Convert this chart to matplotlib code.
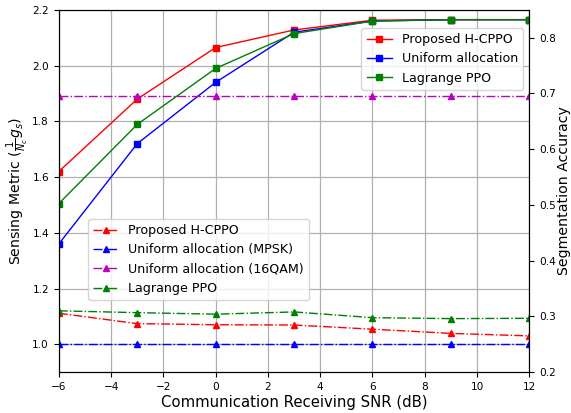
import matplotlib
matplotlib.use("Agg")
import matplotlib.pyplot as plt

snr = [-6, -3, 0, 3, 6, 9, 12]

# Sensing metric (left axis)
sense_hcppo = [1.62, 1.88, 2.065, 2.128, 2.163, 2.165, 2.165]
sense_uniform = [1.36, 1.72, 1.94, 2.12, 2.16, 2.165, 2.165]
sense_lagrange = [1.505, 1.789, 1.99, 2.115, 2.16, 2.165, 2.165]

# Segmentation accuracy (right axis)
seg_hcppo = [0.3056, 0.287, 0.285, 0.2845, 0.277, 0.2695, 0.265]
seg_mpsk = [0.25, 0.25, 0.25, 0.25, 0.25, 0.25, 0.25]
seg_16qam = [0.695, 0.695, 0.695, 0.695, 0.695, 0.695, 0.695]
seg_lagrange = [0.310, 0.3067, 0.304, 0.308, 0.2977, 0.296, 0.2966]

fig, ax = plt.subplots(figsize=(5.71, 4.13), dpi=100)
fig.subplots_adjust(left=0.103, right=0.927, top=0.976, bottom=0.099)

ms = 4.8
lw = 1.0
ax.plot(snr, sense_hcppo, 'r-s', markersize=ms, linewidth=lw, label='Proposed H-CPPO')
ax.plot(snr, sense_uniform, 'b-s', markersize=ms, linewidth=lw, label='Uniform allocation')
ax.plot(snr, sense_lagrange, 'g-s', markersize=ms, linewidth=lw, label='Lagrange PPO')
ax.set_xlim(-6, 12)
ax.set_ylim(0.9, 2.2)
ax.set_xlabel('Communication Receiving SNR (dB)', fontsize=10.7, labelpad=2)
ax.set_ylabel(r'Sensing Metric ($\frac{1}{N_c}g_s$)', fontsize=10.2, labelpad=1)
ax.grid(True, color='#b0b0b0', linewidth=0.9)
ax.tick_params(labelsize=7.6)

ax2 = ax.twinx()
ax2.plot(snr, seg_hcppo, 'r-.^', markersize=ms, linewidth=lw, label='Proposed H-CPPO')
ax2.plot(snr, seg_mpsk, 'b-.^', markersize=ms, linewidth=lw, label='Uniform allocation (MPSK)')
ax2.plot(snr, seg_16qam, 'm-.^', markersize=ms, linewidth=lw, label='Uniform allocation (16QAM)')
ax2.plot(snr, seg_lagrange, 'g-.^', markersize=ms, linewidth=lw, label='Lagrange PPO')
ax2.set_ylim(0.2, 0.85)
ax2.set_ylabel('Segmentation Accuracy', fontsize=10.2, labelpad=0.5)
ax2.tick_params(labelsize=7.6)

ax.legend(loc='upper right', bbox_to_anchor=(0.987, 0.95), borderaxespad=0, fontsize=9.1)
ax2.legend(loc='lower left', bbox_to_anchor=(0.062, 0.199), borderaxespad=0, fontsize=9.1)

fig.savefig('out.png', dpi=100)
